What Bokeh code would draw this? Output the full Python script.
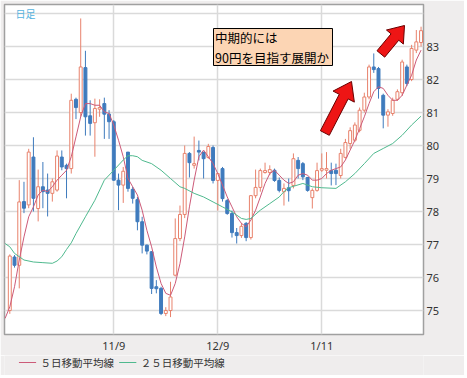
from bokeh.plotting import figure
from bokeh.layouts import column
from bokeh.models import Range1d, FixedTicker, Label, ColumnDataSource
from bokeh.embed import file_html
from bokeh.resources import INLINE

# ---------------- data ----------------
opens = [75.00, 76.62, 76.37, 78.30, 78.20, 79.65, 78.09, 78.75, 78.65, 78.55,
         78.65, 79.65, 79.40, 79.30, 81.40, 81.00, 82.36, 80.90, 80.69, 81.10,
         81.27, 80.95, 80.72, 78.95, 78.80, 79.80, 78.67, 78.36, 77.69, 76.98,
         76.78, 75.72, 75.67, 74.91, 75.00, 76.07, 77.18, 77.91, 79.76, 79.40,
         79.85, 79.80, 79.64, 79.94, 78.94, 79.30, 78.33, 77.94, 77.36, 77.27,
         77.64, 77.21, 78.48, 78.73, 79.18, 79.18, 79.25, 78.94, 78.60, 78.72,
         78.79, 79.55, 79.45, 79.03, 78.42, 78.64, 79.25, 79.25, 79.24, 79.25,
         79.09, 79.64, 80.06, 80.16, 80.46, 81.07, 81.47, 82.38, 82.33, 81.52,
         80.92, 80.97, 81.40, 81.60, 82.38, 82.00, 82.89, 83.12]
highs = [76.70, 76.68, 78.95, 78.90, 79.90, 80.25, 79.27, 79.50, 79.15, 79.00,
         79.85, 79.85, 79.45, 81.57, 81.45, 83.85, 82.87, 81.37, 81.42, 81.40,
         81.45, 81.07, 80.77, 79.15, 79.35, 79.80, 78.75, 78.44, 77.84, 77.00,
         76.80, 75.92, 75.72, 75.10, 75.87, 77.79, 78.18, 80.00, 79.80, 80.27,
         80.15, 79.80, 80.05, 80.00, 79.15, 79.35, 78.38, 78.03, 77.50, 77.65,
         77.68, 78.50, 79.27, 79.30, 79.48, 79.40, 79.30, 79.03, 78.85, 79.00,
         79.76, 79.65, 79.50, 79.05, 78.70, 79.48, 79.76, 79.80, 79.48, 79.45,
         79.90, 80.20, 80.55, 80.70, 81.15, 81.60, 82.45, 82.79, 82.38, 81.57,
         81.10, 81.45, 81.70, 82.60, 82.45, 83.05, 83.50, 83.60]
lows = [74.90, 76.30, 75.67, 77.95, 78.10, 78.00, 77.70, 78.10, 77.85, 78.30,
        78.60, 79.25, 78.40, 79.15, 80.80, 80.87, 80.30, 80.30, 79.66, 80.87,
        80.20, 80.20, 78.93, 78.04, 78.26, 78.60, 78.24, 77.43, 76.73, 76.70,
        75.50, 75.52, 74.86, 74.83, 74.80, 76.03, 77.10, 77.80, 79.03, 79.30,
        79.55, 79.00, 79.60, 78.85, 78.03, 78.30, 77.90, 77.21, 77.03, 77.20,
        77.10, 77.15, 78.40, 78.60, 79.15, 79.10, 78.90, 78.58, 78.18, 78.30,
        78.70, 79.00, 78.95, 78.60, 78.09, 78.60, 79.20, 79.00, 78.79, 78.80,
        79.00, 79.60, 79.90, 80.10, 80.40, 81.00, 81.40, 82.20, 81.42, 80.52,
        80.57, 80.90, 81.35, 81.50, 81.80, 81.95, 82.80, 83.00]
closes = [76.65, 76.37, 78.29, 78.10, 79.80, 78.40, 78.75, 78.60, 78.55, 78.90,
          79.68, 79.35, 79.30, 81.37, 81.15, 82.38, 80.87, 80.67, 81.12, 81.15,
          80.95, 80.72, 78.95, 78.80, 79.22, 78.70, 78.40, 77.69, 76.98, 76.80,
          75.67, 75.66, 74.91, 75.00, 75.41, 77.18, 77.91, 79.76, 79.48, 79.45,
          79.80, 79.60, 79.97, 78.94, 79.15, 78.39, 77.94, 77.36, 77.27, 77.55,
          77.21, 78.48, 78.73, 79.24, 79.24, 79.27, 78.94, 78.64, 78.70, 78.63,
          79.60, 79.30, 79.05, 78.64, 78.64, 79.24, 79.30, 79.30, 79.15, 79.15,
          79.76, 80.09, 80.45, 80.62, 81.07, 81.47, 82.38, 82.30, 81.73, 80.92,
          81.02, 81.37, 81.63, 82.53, 81.88, 82.94, 83.14, 83.48]

# 5-day moving average, read at each day (starting one day before the first candle)
ma5 = [74.76, 75.11, 75.72, 76.53, 77.23, 77.84, 78.14, 78.50, 78.65, 78.60,
       78.75, 78.95, 79.10, 79.25, 79.66, 80.26, 80.87, 81.27, 81.27, 81.22,
       81.22, 81.02, 80.97, 80.62, 80.16, 79.66, 79.00, 78.75, 78.50, 78.04,
       77.43, 76.93, 76.32, 75.82, 75.52, 75.46, 75.82, 76.42, 77.23, 78.14,
       78.95, 79.66, 79.86, 79.66, 79.45, 79.15, 78.80, 78.44, 78.14, 77.84,
       77.64, 77.54, 77.74, 78.04, 78.44, 78.85, 79.15, 79.25, 79.10, 78.95,
       78.85, 78.90, 79.10, 79.15, 79.10, 78.95, 78.95, 79.00, 79.15, 79.25,
       79.30, 79.35, 79.56, 79.86, 80.16, 80.51, 80.87, 81.27, 81.63, 81.78,
       81.73, 81.52, 81.37, 81.37, 81.52, 81.83, 82.13, 82.59, 82.89]
ma5_day = list(range(-1, len(ma5) - 1))

# 25-day moving average, read at these days
ma25_day = [-1, 0, 1, 2, 3, 5, 7, 9, 10, 11, 12, 13, 14, 16, 18, 20, 22, 24, 25, 26,
            27, 28, 30, 32, 34, 36, 37, 39, 41, 43, 45, 47, 49, 50, 51, 53, 55, 57, 58,
            59, 62, 64, 66, 69, 71, 73, 75, 77, 79, 81, 83, 85, 87]
ma25 = [77.03, 76.93, 76.73, 76.63, 76.53, 76.47, 76.45, 76.43, 76.50, 76.63,
        76.85, 77.05, 77.33, 77.84, 78.34, 78.95, 79.25, 79.56, 79.69, 79.69,
        79.66, 79.55, 79.45, 79.25, 79.00, 78.75, 78.70, 78.55, 78.44, 78.29,
        78.14, 77.99, 77.79, 77.76, 77.79, 78.04, 78.24, 78.44, 78.60, 78.72,
        78.85, 78.75, 78.72, 78.70, 78.90, 79.15, 79.45, 79.76, 79.91, 80.06,
        80.31, 80.62, 80.89]

x_tick_days = [22, 44, 66]
x_tick_labels = ["11/9", "12/9", "1/11"]
y_tick_values = [75, 76, 77, 78, 79, 80, 81, 82, 83]
y_grid_values = [75, 76, 77, 78, 79, 80, 81, 82, 83, 84]

legend_labels = ["５日移動平均線", "２５日移動平均線"]
chart_title = "日足"
note_lines = ["中期的には", "90円を目指す展開か"]

# ---------------- layout helpers (page pixels -> data) ----------------
def dx(px):
    return (px - 9.3) / 4.727


def dy(py):
    return 84.0 - (py - 13.0) / 33.0


UP = "#e8826c"
DOWN = "#3f7bbd"
MA5_C = "#cc5a78"
MA25_C = "#4fb98e"
BG = "#efeded"

p = figure(frame_width=419, frame_height=330, output_backend="svg", toolbar_location=None,
           x_range=Range1d(dx(4), dx(423)), y_range=Range1d(dy(334), dy(4)),
           y_axis_location="right", min_border_left=4, min_border_top=4,
           min_border_right=41, min_border_bottom=21)
p.background_fill_color = "white"
p.border_fill_color = BG
p.outline_line_color = "#a0a0a0"
p.outline_line_width = 1.5

# grids
p.xgrid.ticker = FixedTicker(ticks=x_tick_days)
p.ygrid.ticker = FixedTicker(ticks=y_grid_values)
p.grid.grid_line_color = "#dadada"
p.grid.grid_line_width = 1.5

# axes
p.xaxis.ticker = FixedTicker(ticks=x_tick_days)
p.xaxis.major_label_overrides = {d: t for d, t in zip(x_tick_days, x_tick_labels)}
p.yaxis.ticker = FixedTicker(ticks=y_tick_values)
for ax in (p.xaxis, p.yaxis):
    ax.axis_line_color = None
    ax.major_tick_line_color = None
    ax.minor_tick_line_color = None
    ax.major_tick_out = 0
    ax.major_tick_in = 0
    ax.minor_tick_out = 0
    ax.minor_tick_in = 0
    ax.major_label_text_font = "Noto Sans"
    ax.major_label_text_font_size = "11px"
    ax.major_label_text_color = "#333333"
p.xaxis.major_label_standoff = 3
p.yaxis.major_label_standoff = 3

# ---------------- candles ----------------
days = list(range(len(closes)))
up_idx = [i for i in days if closes[i] >= opens[i]]
dn_idx = [i for i in days if closes[i] < opens[i]]


def sub(idx):
    return ColumnDataSource(dict(
        x=[days[i] for i in idx],
        l=[lows[i] for i in idx],
        h=[highs[i] for i in idx],
        top=[max(opens[i], closes[i]) for i in idx],
        bot=[min(opens[i], closes[i]) for i in idx],
    ))


su = sub(up_idx)
sd = sub(dn_idx)
p.segment(x0="x", y0="l", x1="x", y1="h", source=su, line_color=UP, line_width=1)
p.segment(x0="x", y0="l", x1="x", y1="h", source=sd, line_color=DOWN, line_width=1)
p.vbar(x="x", top="top", bottom="bot", width=0.62, source=su,
       fill_color="white", line_color=UP, line_width=1)
p.vbar(x="x", top="top", bottom="bot", width=0.62, source=sd,
       fill_color=DOWN, line_color=DOWN, line_width=1)

# ---------------- moving averages ----------------
p.line(ma5_day, ma5, line_color=MA5_C, line_width=1)
p.line(ma25_day, ma25, line_color=MA25_C, line_width=1)

# ---------------- annotations ----------------
p.add_layout(Label(x=dx(15), y=dy(12.5), text=chart_title, text_font="Noto Sans CJK JP",
                   text_font_size="10px", text_color="#55b3de", text_baseline="middle"))

p.quad(left=[dx(213)], right=[dx(332)], top=[dy(28)], bottom=[dy(65)],
       fill_color="#fcd5b4", line_color="black", line_width=1)
for line_txt, ypix in zip(note_lines, [37, 57]):
    p.add_layout(Label(x=dx(214.5), y=dy(ypix), text=line_txt, text_font="Noto Sans CJK JP",
                       text_font_size="12.5px", text_color="black", text_baseline="middle"))


def arrow(tx, ty, ux, uy, L, hl, hw, sw):
    n = (ux * ux + uy * uy) ** 0.5
    ux, uy = ux / n, uy / n
    nx, ny = -uy, ux
    bx, by = tx - hl * ux, ty - hl * uy          # head base centre
    cx, cy = tx - L * ux, ty - L * uy            # tail centre
    pts = [(cx + sw * nx, cy + sw * ny), (bx + sw * nx, by + sw * ny),
           (bx + hw * nx, by + hw * ny), (tx, ty),
           (bx - hw * nx, by - hw * ny), (bx - sw * nx, by - sw * ny),
           (cx - sw * nx, cy - sw * ny)]
    return [dx(a) for a, b in pts], [dy(b) for a, b in pts]


for spec in [(351, 81, 0.46, -0.89, 58, 17, 12, 5), (404, 25, 0.64, -0.77, 37, 15, 11, 5)]:
    xs, ys = arrow(*spec)
    p.patch(xs, ys, fill_color="#ee1515", line_color="#6a0000", line_width=1)

# ---------------- legend strip (its own small canvas under the chart) ----------------
leg = figure(width=464, height=20, output_backend="svg", toolbar_location=None,
             x_range=Range1d(0, 464), y_range=Range1d(0, 20),
             min_border=0, x_axis_type=None, y_axis_type=None)
leg.grid.visible = False
leg.outline_line_color = None
leg.background_fill_color = BG
leg.border_fill_color = BG
leg_colors = [MA5_C, MA25_C]
leg_glyph_x = [16, 127]
for lab, col, gx in zip(legend_labels, leg_colors, leg_glyph_x):
    leg.line([gx, gx + 19], [13, 13], line_color=col, line_width=1)
    leg.add_layout(Label(x=gx + 24, y=13, text=lab, text_font="Noto Sans CJK JP",
                         text_font_size="10.5px", text_color="#333333",
                         text_baseline="middle"))

layout = column(p, leg, spacing=0)
open("out.html", "w").write(file_html(layout, INLINE))
